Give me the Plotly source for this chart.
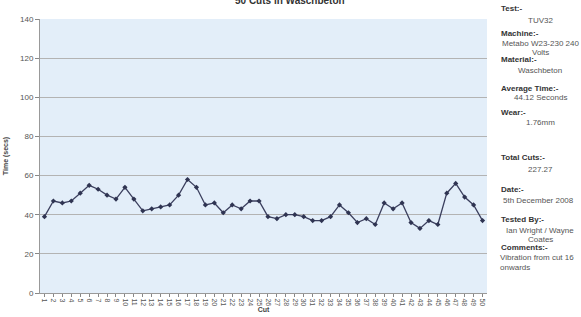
import plotly.graph_objects as go

cuts = [str(i) for i in range(1, 51)]
times = [39, 47, 46, 47, 51, 55, 53, 50, 48, 54,
         48, 42, 43, 44, 45, 50, 58, 54, 45, 46,
         41, 45, 43, 47, 47, 39, 38, 40, 40, 39,
         37, 37, 39, 45, 41, 36, 38, 35, 46, 43,
         46, 36, 33, 37, 35, 51, 56, 49, 45, 37]
y_ticks = [0, 20, 40, 60, 80, 100, 120, 140]

info_headers = ["Test:-", "Machine:-", "Material:-", "Average Time:-", "Wear:-",
                "Total Cuts:-", "Date:-", "Tested By:-", "Comments:-"]
info_values = [["TUV32"], ["Metabo W23-230 240", "Volts"], ["Waschbeton"],
               ["44.12 Seconds"], ["1.76mm"], ["227.27"], ["5th December 2008"],
               ["Ian Wright / Wayne", "Coates"], ["Vibration from cut 16", "onwards"]]

W, H = 581, 317
ML, MR, MT, MB = 40, 94, 19, 24
ph = H - MT - MB
pw = W - ML - MR


def px_to_paper(xp, yp):
    return (xp - ML) / pw, 1 - (yp - MT) / ph


fig = go.Figure()
fig.add_trace(go.Scatter(
    x=cuts, y=times, mode="lines+markers",
    line=dict(color="#3b3f5e", width=1.3),
    marker=dict(color="#2f3452", size=4, symbol="diamond"),
    showlegend=False,
))

fig.update_layout(
    width=W, height=H,
    margin=dict(l=ML, r=MR, t=MT, b=MB),
    paper_bgcolor="#ffffff",
    plot_bgcolor="#e3eef9",
    font=dict(family="Liberation Sans, Arial, sans-serif", size=8, color="#555555"),
    xaxis=dict(
        type="category", range=[-0.5, 49.5], automargin=False,
        tickangle=90, tickfont=dict(size=7, color="#555555"),
        ticks="outside", ticklen=3, tickcolor="#888888",
        showgrid=False, showline=True, linecolor="#999999",
        title=dict(text="<b>Cut</b>", font=dict(size=7, color="#444444"), standoff=0),
    ),
    yaxis=dict(
        range=[0, 140], tickvals=y_ticks, automargin=False,
        tickfont=dict(size=8, color="#555555"),
        ticks="outside", ticklen=4, tickcolor="#888888",
        showgrid=True, gridcolor="#b3b3b3", gridwidth=1,
        showline=True, linecolor="#999999", zeroline=False,
        title=dict(text="<b>Time (secs)</b>", font=dict(size=7, color="#444444"), standoff=10),
    ),
)

# title partially clipped at the top edge, as in the source
x, y = px_to_paper(290, 0)
fig.add_annotation(text="<b>50 Cuts in Waschbeton</b>", xref="paper", yref="paper",
                   x=x, y=y, xanchor="center", yanchor="middle", showarrow=False,
                   font=dict(size=10, color="#333333"))

# info panel
header_y = [9, 33, 60, 88, 112, 157, 189, 219, 247]
value_y = [[20], [43, 52], [70], [97], [122], [169], [200], [230, 239], [257, 267]]
value_x = [540, 540, 540, 540, 540, 540, 538, 540, None]

for h, hy, vals, vys, vx in zip(info_headers, header_y, info_values, value_y, value_x):
    x, y = px_to_paper(499, hy)
    fig.add_annotation(text=f"<b>{h}</b>", x=x, y=y, xref="paper", yref="paper",
                       xanchor="left", yanchor="middle", showarrow=False,
                       font=dict(size=8, color="#333333"))
    for v, vy in zip(vals, vys):
        if vx is None:
            x, y = px_to_paper(498, vy)
            anchor = "left"
        else:
            x, y = px_to_paper(vx, vy)
            anchor = "center"
        fig.add_annotation(text=v, x=x, y=y, xref="paper", yref="paper",
                           xanchor=anchor, yanchor="middle", showarrow=False,
                           font=dict(size=8, color="#555555"))

fig.write_html(
    "out.html",
    config={"displayModeBar": False},
    post_script="document.body.style.margin='0';document.body.style.padding='0';"
                "document.body.style.overflow='hidden';",
)
